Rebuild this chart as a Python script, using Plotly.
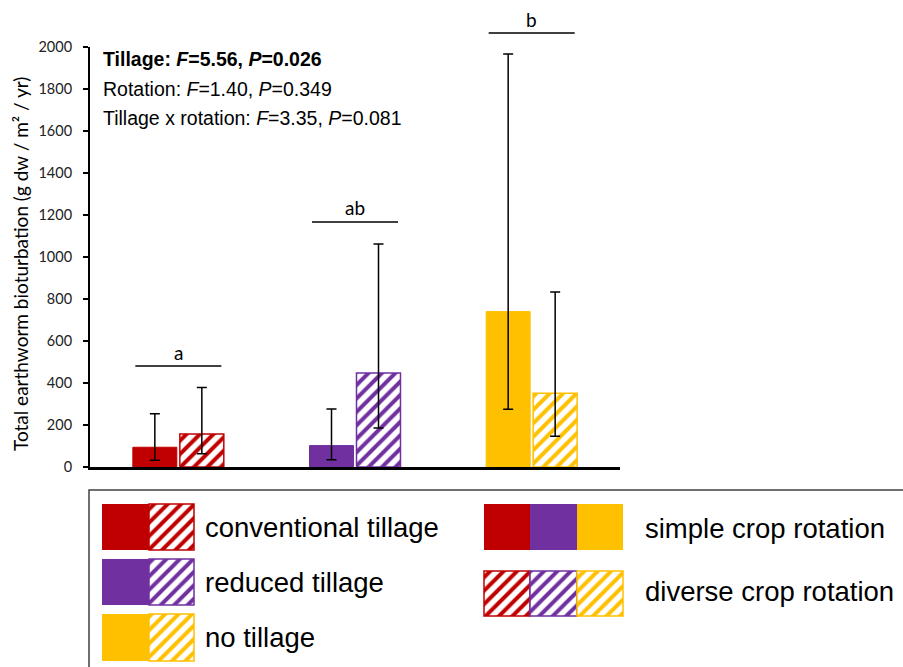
import plotly.graph_objects as go

# ---------------- data ----------------
tillage = ["conventional tillage", "reduced tillage", "no tillage"]
colors = ["#C00000", "#7030A0", "#FFC000"]

simple_mean = [94, 102, 740]
simple_upper = [254, 276, 1967]
simple_lower = [32, 35, 275]

diverse_mean = [157, 448, 351]
diverse_upper = [379, 1062, 833]
diverse_lower = [63, 186, 146]

letters = ["a", "ab", "b"]
letter_line_y = [366, 222, 33]      # pixel rows of the letter bars (layout)
y_ticks = list(range(0, 2001, 200))

W, H = 903, 667
def px(x):
    return x / W
def py(y):
    return 1 - y / H

X0, X1 = 90, 620
Y0, Y1 = 467, 47

PAT = dict(shape="/", bgcolor="white", size=9.5, solidity=0.42, fillmode="replace")

fig = go.Figure()

fig.add_trace(go.Bar(
    x=tillage, y=simple_mean, name="simple crop rotation",
    marker=dict(color=colors, line=dict(color=colors, width=1)),
    error_y=dict(type="data", symmetric=False,
                 array=[u - m for u, m in zip(simple_upper, simple_mean)],
                 arrayminus=[m - l for m, l in zip(simple_mean, simple_lower)],
                 color="black", thickness=1.5, width=5),
    showlegend=False,
))
fig.add_trace(go.Bar(
    x=tillage, y=diverse_mean, name="diverse crop rotation",
    marker=dict(color=colors, line=dict(color=colors, width=1.5),
                pattern=dict(fgcolor=colors, **PAT)),
    error_y=dict(type="data", symmetric=False,
                 array=[u - m for u, m in zip(diverse_upper, diverse_mean)],
                 arrayminus=[m - l for m, l in zip(diverse_mean, diverse_lower)],
                 color="black", thickness=1.5, width=5),
    showlegend=False,
))

# ---------------- legend drawn as swatches on a hidden pixel axis ----------------
def swatch(x0, x1, y0, y1, color, hatched):
    m = dict(color=color, line=dict(color=color, width=1.5 if hatched else 0))
    if hatched:
        m["pattern"] = dict(fgcolor=color, **PAT)
    fig.add_trace(go.Bar(x=[x0], y=[y1 - y0], base=[y0], width=[x1 - x0], offset=0,
                         marker=m, xaxis="x2", yaxis="y2", showlegend=False,
                         hoverinfo="skip"))

rows = [(504, 550), (559, 605), (614, 661)]
for (r0, r1), c in zip(rows, colors):
    swatch(102, 149, r0, r1, c, False)
    swatch(149, 194, r0, r1, c, True)
cols = [(484, 530), (530, 577), (577, 623)]
for (c0, c1), c in zip(cols, colors):
    swatch(c0, c1, 504, 550, c, False)
    swatch(c0, c1, 571, 616, c, True)

annotations = []
legend_font = dict(family="Liberation Sans, Arial", size=27.5, color="black")
for name, (r0, r1) in zip(tillage, rows):
    annotations.append(dict(x=px(203), y=py((r0 + r1) / 2), xref="paper", yref="paper",
                            text=name, showarrow=False, xanchor="left", yanchor="middle",
                            font=legend_font))
annotations.append(dict(x=px(643), y=py(528), xref="paper", yref="paper",
                        text="simple crop rotation", showarrow=False, xanchor="left",
                        yanchor="middle", font=legend_font))
annotations.append(dict(x=px(643), y=py(591), xref="paper", yref="paper",
                        text="diverse crop rotation", showarrow=False, xanchor="left",
                        yanchor="middle", font=legend_font))

# statistics text
stat_font = dict(family="Liberation Sans, Arial", size=19.5, color="black")
stats = ["<b>Tillage: <i>F</i>=5.56, <i>P</i>=0.026</b>",
         "Rotation: <i>F</i>=1.40, <i>P</i>=0.349",
         "Tillage x rotation: <i>F</i>=3.35, <i>P</i>=0.081"]
for s, yy in zip(stats, [59, 89, 118]):
    annotations.append(dict(x=px(101), y=py(yy), xref="paper", yref="paper", text=s,
                            showarrow=False, xanchor="left", yanchor="middle", font=stat_font))

# significance letters and lines
shapes = []
cat_w = (X1 - X0) / len(tillage)
for i, (lt, ly) in enumerate(zip(letters, letter_line_y)):
    cx = X0 + cat_w * (i + 0.5)
    shapes.append(dict(type="line", xref="paper", yref="paper",
                       x0=px(cx - 43), x1=px(cx + 43), y0=py(ly), y1=py(ly),
                       line=dict(color="black", width=1.3)))
    annotations.append(dict(x=px(cx), y=py(ly - 14), xref="paper", yref="paper", text=lt,
                            showarrow=False, xanchor="center", yanchor="middle",
                            font=dict(family="Lato, Carlito, sans-serif", size=19, color="black")))

# y axis title
annotations.append(dict(x=px(20), y=py(264), xref="paper", yref="paper",
                        text="Total earthworm bioturbation (g dw / m² / yr)",
                        textangle=-90, showarrow=False, xanchor="center", yanchor="middle",
                        font=dict(family="Lato, Carlito, sans-serif", size=19, color="black")))

# legend box
shapes.append(dict(type="rect", xref="paper", yref="paper",
                   x0=px(89), x1=px(910), y0=py(490), y1=py(680),
                   line=dict(color="#404040", width=1.5), fillcolor="rgba(0,0,0,0)"))

fig.update_layout(
    width=W, height=H,
    margin=dict(l=0, r=0, t=0, b=0),
    paper_bgcolor="white", plot_bgcolor="rgba(0,0,0,0)",
    barmode="group", bargap=0.468, bargroupgap=0.064,
    xaxis=dict(domain=[px(X0), px(X1)], showline=True, linecolor="black", linewidth=2.5,
               showticklabels=False, ticks="", showgrid=False, zeroline=False,
               range=[-0.5, 2.5], anchor="y"),
    yaxis=dict(domain=[py(Y0), py(Y1)], range=[0, 2000], tickvals=y_ticks,
               showline=True, linecolor="black", linewidth=2, ticks="outside",
               ticklen=5, tickwidth=1.5, tickcolor="black", showgrid=False, zeroline=False,
               tickfont=dict(family="Lato, Carlito, sans-serif", size=14.5, color="#222"),
               ticklabelstandoff=8, automargin=False, anchor="x"),
    xaxis2=dict(domain=[0, 1], range=[0, W], visible=False, anchor="y2", fixedrange=True),
    yaxis2=dict(domain=[0, 1], range=[H, 0], visible=False, anchor="x2", fixedrange=True),
    shapes=shapes,
    annotations=annotations,
    showlegend=False,
)

fig.write_html("out.html", config={"displayModeBar": False},
               post_script="document.body.style.margin='0';")
